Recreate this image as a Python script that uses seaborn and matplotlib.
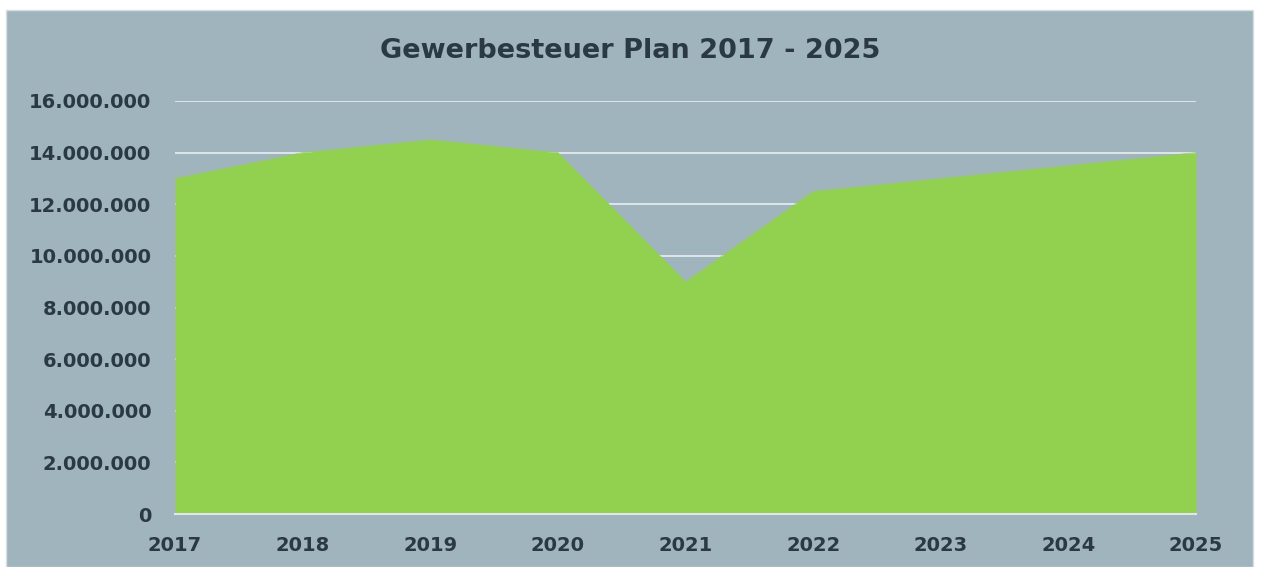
import numpy as np
import pandas as pd
import seaborn as sns
import matplotlib.pyplot as plt
from matplotlib.patches import Rectangle
from matplotlib.ticker import FuncFormatter

years = [2017, 2018, 2019, 2020, 2021, 2022, 2023, 2024, 2025]
steuer = [13000000, 14000000, 14500000, 14000000, 9000000, 12500000, 13000000, 13500000, 14000000]

bg = '#A0B4BE'
green = '#92D050'
txt = '#2B3A42'

sns.set_theme(style='white')
plt.rcParams['font.family'] = ['DejaVu Sans']

fig = plt.figure(figsize=(12.61, 5.67), dpi=100)
fig.patch.set_facecolor('white')
# grey chart frame with thin white margin
fig.patches.append(Rectangle((6/1261, 0), 1247/1261, 557/567, transform=fig.transFigure,
                             facecolor=bg, edgecolor='#D8DEE2', linewidth=1, zorder=-10))

ax = fig.add_axes([175/1261, 53/567, 1021/1261, 413/567])
ax.set_zorder(5)
ax.patch.set_alpha(0)

df = pd.DataFrame({'Jahr': years, 'Steuer': steuer})
ax.fill_between(df['Jahr'], df['Steuer'], 0, color=green, linewidth=0, zorder=2)
sns.lineplot(data=df, x='Jahr', y='Steuer', ax=ax, color=green, linewidth=0.5, zorder=2)

ax.set_xlim(2017, 2025)
ax.set_ylim(0, 16000000)
ax.set_yticks(np.arange(0, 16000001, 2000000))
ax.set_xticks(years)
ax.yaxis.set_major_formatter(FuncFormatter(lambda v, p: f'{int(v):,}'.replace(',', '.')))
ax.grid(axis='y', color='#E3EAEE', linewidth=1.3, zorder=1)
ax.set_axisbelow(True)
for s in ['top', 'right', 'left']:
    ax.spines[s].set_visible(False)
ax.spines['bottom'].set_color('#E0E6EA')
ax.spines['bottom'].set_linewidth(1.5)
ax.spines['bottom'].set_zorder(3)
ax.tick_params(axis='x', colors='#E0E6EA', length=5, width=1.2, direction='out', pad=11,
               labelcolor=txt, labelsize=14)
ax.tick_params(axis='y', length=0, pad=17, labelcolor=txt, labelsize=14)
for lab in ax.get_xticklabels() + ax.get_yticklabels():
    lab.set_fontweight('bold')
ax.set_xlabel('')
ax.set_ylabel('')

fig.text(630/1261, 1 - 51/567, 'Gewerbesteuer Plan 2017 - 2025', ha='center', va='center',
         fontsize=19.5, fontweight='bold', color=txt)

fig.savefig('out.png', dpi=100, facecolor=fig.get_facecolor())
